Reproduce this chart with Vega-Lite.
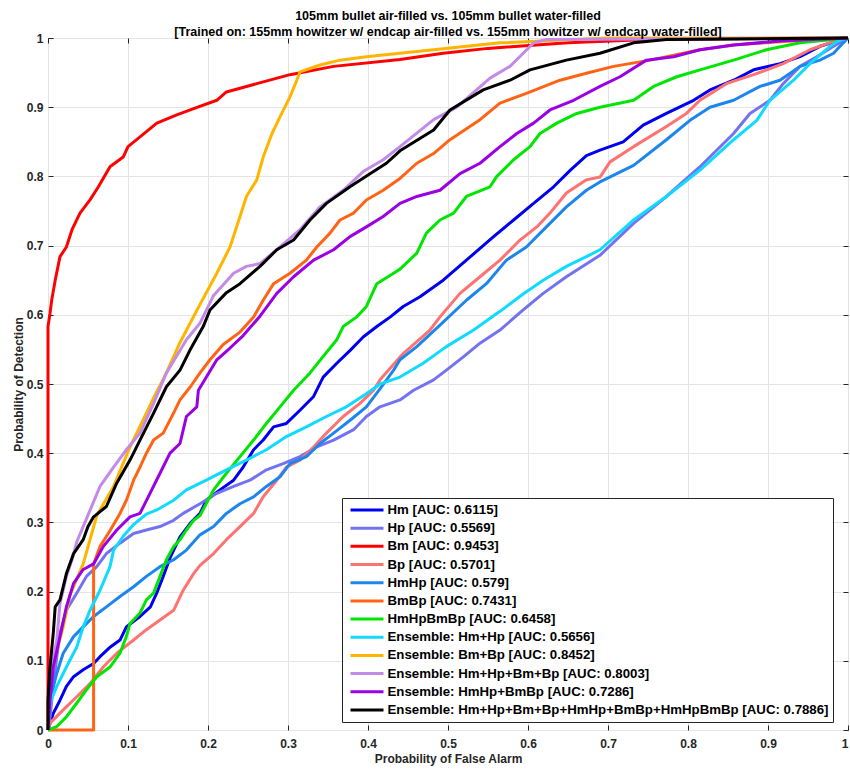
{
  "$schema": "https://vega.github.io/schema/vega-lite/v6.json",
  "width": 800,
  "height": 692,
  "autosize": {"type": "none"},
  "padding": {"left": 48, "top": 38, "right": 2, "bottom": 39},
  "background": "white",
  "config": {
    "font": "Liberation Sans",
    "view": {"stroke": "#262626", "strokeWidth": 1}
  },
  "title": {
    "text": [
      "105mm bullet air-filled vs. 105mm bullet water-filled",
      "[Trained on: 155mm howitzer w/ endcap air-filled vs. 155mm howitzer w/ endcap water-filled]"
    ],
    "fontSize": 12.5,
    "fontWeight": "bold",
    "color": "#000000",
    "anchor": "middle",
    "offset": -6,
    "lineHeight": 16
  },
  "datasets": {
    "auc": [
      {"s": "Hm", "name": "Hm [AUC: 0.6115]"},
      {"s": "Hp", "name": "Hp [AUC: 0.5569]"},
      {"s": "Bm", "name": "Bm [AUC: 0.9453]"},
      {"s": "Bp", "name": "Bp [AUC: 0.5701]"},
      {"s": "HmHp", "name": "HmHp [AUC: 0.579]"},
      {"s": "BmBp", "name": "BmBp [AUC: 0.7431]"},
      {"s": "HmHpBmBp", "name": "HmHpBmBp [AUC: 0.6458]"},
      {"s": "Hm+Hp", "name": "Ensemble: Hm+Hp [AUC: 0.5656]"},
      {"s": "Bm+Bp", "name": "Ensemble: Bm+Bp [AUC: 0.8452]"},
      {"s": "Hm+Hp+Bm+Bp", "name": "Ensemble: Hm+Hp+Bm+Bp [AUC: 0.8003]"},
      {"s": "HmHp+BmBp", "name": "Ensemble: HmHp+BmBp [AUC: 0.7286]"},
      {"s": "All", "name": "Ensemble: Hm+Hp+Bm+Bp+HmHp+BmBp+HmHpBmBp [AUC: 0.7886]"}
    ],
    "roc": [
      {"s":"Hm","x":0,"y":0},{"s":"Hm","x":0.0066,"y":0.024},{"s":"Hm","x":0.015,"y":0.043},{"s":"Hm","x":0.023,"y":0.063},{"s":"Hm","x":0.032,"y":0.077},{"s":"Hm","x":0.044,"y":0.087},{"s":"Hm","x":0.057,"y":0.096},{"s":"Hm","x":0.065,"y":0.106},{"s":"Hm","x":0.078,"y":0.12},{"s":"Hm","x":0.09,"y":0.13},{"s":"Hm","x":0.098,"y":0.149},{"s":"Hm","x":0.115,"y":0.164},{"s":"Hm","x":0.128,"y":0.178},{"s":"Hm","x":0.136,"y":0.198},{"s":"Hm","x":0.144,"y":0.222},{"s":"Hm","x":0.153,"y":0.25},{"s":"Hm","x":0.165,"y":0.279},{"s":"Hm","x":0.178,"y":0.299},{"s":"Hm","x":0.19,"y":0.313},{"s":"Hm","x":0.198,"y":0.332},{"s":"Hm","x":0.215,"y":0.347},{"s":"Hm","x":0.232,"y":0.361},{"s":"Hm","x":0.244,"y":0.38},{"s":"Hm","x":0.257,"y":0.405},{"s":"Hm","x":0.269,"y":0.419},{"s":"Hm","x":0.282,"y":0.438},{"s":"Hm","x":0.298,"y":0.443},{"s":"Hm","x":0.315,"y":0.462},{"s":"Hm","x":0.332,"y":0.482},{"s":"Hm","x":0.344,"y":0.51},{"s":"Hm","x":0.361,"y":0.53},{"s":"Hm","x":0.378,"y":0.549},{"s":"Hm","x":0.394,"y":0.568},{"s":"Hm","x":0.411,"y":0.583},{"s":"Hm","x":0.428,"y":0.597},{"s":"Hm","x":0.444,"y":0.612},{"s":"Hm","x":0.465,"y":0.626},{"s":"Hm","x":0.494,"y":0.65},{"s":"Hm","x":0.523,"y":0.679},{"s":"Hm","x":0.557,"y":0.713},{"s":"Hm","x":0.582,"y":0.737},{"s":"Hm","x":0.607,"y":0.761},{"s":"Hm","x":0.632,"y":0.785},{"s":"Hm","x":0.653,"y":0.809},{"s":"Hm","x":0.673,"y":0.83},{"s":"Hm","x":0.69,"y":0.838},{"s":"Hm","x":0.719,"y":0.85},{"s":"Hm","x":0.744,"y":0.874},{"s":"Hm","x":0.773,"y":0.891},{"s":"Hm","x":0.807,"y":0.91},{"s":"Hm","x":0.8275,"y":0.925},{"s":"Hm","x":0.857,"y":0.939},{"s":"Hm","x":0.882,"y":0.954},{"s":"Hm","x":0.915,"y":0.963},{"s":"Hm","x":0.94,"y":0.973},{"s":"Hm","x":0.965,"y":0.988},{"s":"Hm","x":0.99,"y":0.997},{"s":"Hm","x":1,"y":1},
      {"s":"Hp","x":0,"y":0},{"s":"Hp","x":0.0025,"y":0.019},{"s":"Hp","x":0.0066,"y":0.063},{"s":"Hp","x":0.011,"y":0.106},{"s":"Hp","x":0.015,"y":0.14},{"s":"Hp","x":0.023,"y":0.173},{"s":"Hp","x":0.036,"y":0.198},{"s":"Hp","x":0.048,"y":0.222},{"s":"Hp","x":0.061,"y":0.236},{"s":"Hp","x":0.073,"y":0.255},{"s":"Hp","x":0.09,"y":0.27},{"s":"Hp","x":0.107,"y":0.284},{"s":"Hp","x":0.123,"y":0.289},{"s":"Hp","x":0.14,"y":0.294},{"s":"Hp","x":0.157,"y":0.303},{"s":"Hp","x":0.169,"y":0.313},{"s":"Hp","x":0.19,"y":0.327},{"s":"Hp","x":0.211,"y":0.342},{"s":"Hp","x":0.232,"y":0.352},{"s":"Hp","x":0.2525,"y":0.361},{"s":"Hp","x":0.273,"y":0.376},{"s":"Hp","x":0.294,"y":0.385},{"s":"Hp","x":0.315,"y":0.395},{"s":"Hp","x":0.336,"y":0.409},{"s":"Hp","x":0.357,"y":0.419},{"s":"Hp","x":0.382,"y":0.434},{"s":"Hp","x":0.398,"y":0.453},{"s":"Hp","x":0.415,"y":0.467},{"s":"Hp","x":0.44,"y":0.477},{"s":"Hp","x":0.457,"y":0.491},{"s":"Hp","x":0.482,"y":0.506},{"s":"Hp","x":0.498,"y":0.52},{"s":"Hp","x":0.52,"y":0.54},{"s":"Hp","x":0.54,"y":0.559},{"s":"Hp","x":0.565,"y":0.578},{"s":"Hp","x":0.594,"y":0.607},{"s":"Hp","x":0.619,"y":0.631},{"s":"Hp","x":0.648,"y":0.655},{"s":"Hp","x":0.69,"y":0.686},{"s":"Hp","x":0.732,"y":0.732},{"s":"Hp","x":0.773,"y":0.771},{"s":"Hp","x":0.815,"y":0.814},{"s":"Hp","x":0.857,"y":0.862},{"s":"Hp","x":0.8775,"y":0.891},{"s":"Hp","x":0.9025,"y":0.91},{"s":"Hp","x":0.919,"y":0.934},{"s":"Hp","x":0.94,"y":0.959},{"s":"Hp","x":0.961,"y":0.973},{"s":"Hp","x":0.982,"y":0.988},{"s":"Hp","x":1,"y":1},
      {"s":"Bm","x":0,"y":0},{"s":"Bm","x":0,"y":0.583},{"s":"Bm","x":0.0025,"y":0.602},{"s":"Bm","x":0.0046,"y":0.621},{"s":"Bm","x":0.009,"y":0.65},{"s":"Bm","x":0.015,"y":0.684},{"s":"Bm","x":0.023,"y":0.698},{"s":"Bm","x":0.03,"y":0.723},{"s":"Bm","x":0.04,"y":0.747},{"s":"Bm","x":0.0525,"y":0.766},{"s":"Bm","x":0.063,"y":0.785},{"s":"Bm","x":0.0775,"y":0.814},{"s":"Bm","x":0.094,"y":0.828},{"s":"Bm","x":0.1,"y":0.843},{"s":"Bm","x":0.115,"y":0.857},{"s":"Bm","x":0.136,"y":0.877},{"s":"Bm","x":0.161,"y":0.889},{"s":"Bm","x":0.182,"y":0.898},{"s":"Bm","x":0.211,"y":0.91},{"s":"Bm","x":0.223,"y":0.922},{"s":"Bm","x":0.261,"y":0.934},{"s":"Bm","x":0.3025,"y":0.947},{"s":"Bm","x":0.357,"y":0.959},{"s":"Bm","x":0.44,"y":0.969},{"s":"Bm","x":0.494,"y":0.978},{"s":"Bm","x":0.55,"y":0.985},{"s":"Bm","x":0.65,"y":0.993},{"s":"Bm","x":0.75,"y":0.998},{"s":"Bm","x":1,"y":1},
      {"s":"Bp","x":0,"y":0},{"s":"Bp","x":0.0025,"y":0.01},{"s":"Bp","x":0.019,"y":0.029},{"s":"Bp","x":0.036,"y":0.048},{"s":"Bp","x":0.0525,"y":0.067},{"s":"Bp","x":0.069,"y":0.091},{"s":"Bp","x":0.086,"y":0.111},{"s":"Bp","x":0.107,"y":0.13},{"s":"Bp","x":0.123,"y":0.145},{"s":"Bp","x":0.14,"y":0.159},{"s":"Bp","x":0.157,"y":0.173},{"s":"Bp","x":0.169,"y":0.202},{"s":"Bp","x":0.182,"y":0.226},{"s":"Bp","x":0.19,"y":0.238},{"s":"Bp","x":0.207,"y":0.255},{"s":"Bp","x":0.223,"y":0.275},{"s":"Bp","x":0.24,"y":0.294},{"s":"Bp","x":0.257,"y":0.313},{"s":"Bp","x":0.269,"y":0.337},{"s":"Bp","x":0.286,"y":0.361},{"s":"Bp","x":0.298,"y":0.38},{"s":"Bp","x":0.315,"y":0.39},{"s":"Bp","x":0.332,"y":0.409},{"s":"Bp","x":0.348,"y":0.429},{"s":"Bp","x":0.369,"y":0.453},{"s":"Bp","x":0.39,"y":0.472},{"s":"Bp","x":0.407,"y":0.491},{"s":"Bp","x":0.415,"y":0.506},{"s":"Bp","x":0.444,"y":0.544},{"s":"Bp","x":0.4775,"y":0.578},{"s":"Bp","x":0.49,"y":0.597},{"s":"Bp","x":0.515,"y":0.631},{"s":"Bp","x":0.54,"y":0.655},{"s":"Bp","x":0.565,"y":0.679},{"s":"Bp","x":0.59,"y":0.708},{"s":"Bp","x":0.611,"y":0.727},{"s":"Bp","x":0.6275,"y":0.747},{"s":"Bp","x":0.648,"y":0.776},{"s":"Bp","x":0.673,"y":0.795},{"s":"Bp","x":0.69,"y":0.799},{"s":"Bp","x":0.7025,"y":0.821},{"s":"Bp","x":0.732,"y":0.843},{"s":"Bp","x":0.773,"y":0.872},{"s":"Bp","x":0.798,"y":0.891},{"s":"Bp","x":0.815,"y":0.91},{"s":"Bp","x":0.848,"y":0.934},{"s":"Bp","x":0.882,"y":0.947},{"s":"Bp","x":0.919,"y":0.963},{"s":"Bp","x":0.9525,"y":0.983},{"s":"Bp","x":0.982,"y":0.995},{"s":"Bp","x":1,"y":1},
      {"s":"HmHp","x":0,"y":0},{"s":"HmHp","x":0.0025,"y":0.043},{"s":"HmHp","x":0.011,"y":0.082},{"s":"HmHp","x":0.019,"y":0.111},{"s":"HmHp","x":0.032,"y":0.135},{"s":"HmHp","x":0.044,"y":0.149},{"s":"HmHp","x":0.057,"y":0.164},{"s":"HmHp","x":0.073,"y":0.178},{"s":"HmHp","x":0.09,"y":0.193},{"s":"HmHp","x":0.107,"y":0.207},{"s":"HmHp","x":0.123,"y":0.222},{"s":"HmHp","x":0.14,"y":0.236},{"s":"HmHp","x":0.157,"y":0.246},{"s":"HmHp","x":0.173,"y":0.26},{"s":"HmHp","x":0.19,"y":0.282},{"s":"HmHp","x":0.207,"y":0.294},{"s":"HmHp","x":0.223,"y":0.313},{"s":"HmHp","x":0.24,"y":0.327},{"s":"HmHp","x":0.257,"y":0.337},{"s":"HmHp","x":0.273,"y":0.352},{"s":"HmHp","x":0.29,"y":0.366},{"s":"HmHp","x":0.3025,"y":0.385},{"s":"HmHp","x":0.323,"y":0.395},{"s":"HmHp","x":0.34,"y":0.414},{"s":"HmHp","x":0.357,"y":0.429},{"s":"HmHp","x":0.378,"y":0.448},{"s":"HmHp","x":0.398,"y":0.467},{"s":"HmHp","x":0.415,"y":0.493},{"s":"HmHp","x":0.432,"y":0.52},{"s":"HmHp","x":0.44,"y":0.535},{"s":"HmHp","x":0.461,"y":0.554},{"s":"HmHp","x":0.49,"y":0.585},{"s":"HmHp","x":0.523,"y":0.621},{"s":"HmHp","x":0.548,"y":0.645},{"s":"HmHp","x":0.573,"y":0.679},{"s":"HmHp","x":0.598,"y":0.698},{"s":"HmHp","x":0.623,"y":0.727},{"s":"HmHp","x":0.648,"y":0.756},{"s":"HmHp","x":0.673,"y":0.78},{"s":"HmHp","x":0.69,"y":0.792},{"s":"HmHp","x":0.732,"y":0.816},{"s":"HmHp","x":0.773,"y":0.853},{"s":"HmHp","x":0.8025,"y":0.881},{"s":"HmHp","x":0.8275,"y":0.9},{"s":"HmHp","x":0.857,"y":0.91},{"s":"HmHp","x":0.89,"y":0.93},{"s":"HmHp","x":0.915,"y":0.939},{"s":"HmHp","x":0.94,"y":0.959},{"s":"HmHp","x":0.965,"y":0.968},{"s":"HmHp","x":0.982,"y":0.978},{"s":"HmHp","x":0.994,"y":0.993},{"s":"HmHp","x":1,"y":1},
      {"s":"BmBp","x":0,"y":0},{"s":"BmBp","x":0.057,"y":0},{"s":"BmBp","x":0.057,"y":0.24},{"s":"BmBp","x":0.065,"y":0.265},{"s":"BmBp","x":0.078,"y":0.289},{"s":"BmBp","x":0.09,"y":0.313},{"s":"BmBp","x":0.098,"y":0.332},{"s":"BmBp","x":0.107,"y":0.361},{"s":"BmBp","x":0.115,"y":0.38},{"s":"BmBp","x":0.123,"y":0.4},{"s":"BmBp","x":0.132,"y":0.419},{"s":"BmBp","x":0.144,"y":0.429},{"s":"BmBp","x":0.157,"y":0.458},{"s":"BmBp","x":0.165,"y":0.477},{"s":"BmBp","x":0.178,"y":0.496},{"s":"BmBp","x":0.19,"y":0.516},{"s":"BmBp","x":0.2025,"y":0.535},{"s":"BmBp","x":0.219,"y":0.557},{"s":"BmBp","x":0.24,"y":0.575},{"s":"BmBp","x":0.257,"y":0.597},{"s":"BmBp","x":0.269,"y":0.621},{"s":"BmBp","x":0.282,"y":0.645},{"s":"BmBp","x":0.3025,"y":0.66},{"s":"BmBp","x":0.323,"y":0.679},{"s":"BmBp","x":0.336,"y":0.698},{"s":"BmBp","x":0.3525,"y":0.718},{"s":"BmBp","x":0.365,"y":0.737},{"s":"BmBp","x":0.382,"y":0.747},{"s":"BmBp","x":0.398,"y":0.766},{"s":"BmBp","x":0.419,"y":0.78},{"s":"BmBp","x":0.44,"y":0.797},{"s":"BmBp","x":0.461,"y":0.819},{"s":"BmBp","x":0.482,"y":0.833},{"s":"BmBp","x":0.5025,"y":0.853},{"s":"BmBp","x":0.54,"y":0.882},{"s":"BmBp","x":0.565,"y":0.906},{"s":"BmBp","x":0.598,"y":0.92},{"s":"BmBp","x":0.64,"y":0.939},{"s":"BmBp","x":0.673,"y":0.949},{"s":"BmBp","x":0.707,"y":0.959},{"s":"BmBp","x":0.7525,"y":0.968},{"s":"BmBp","x":0.815,"y":0.983},{"s":"BmBp","x":0.857,"y":0.99},{"s":"BmBp","x":0.919,"y":0.995},{"s":"BmBp","x":1,"y":1},
      {"s":"HmHpBmBp","x":0,"y":0},{"s":"HmHpBmBp","x":0.011,"y":0.005},{"s":"HmHpBmBp","x":0.023,"y":0.019},{"s":"HmHpBmBp","x":0.036,"y":0.039},{"s":"HmHpBmBp","x":0.048,"y":0.058},{"s":"HmHpBmBp","x":0.061,"y":0.077},{"s":"HmHpBmBp","x":0.0775,"y":0.091},{"s":"HmHpBmBp","x":0.09,"y":0.111},{"s":"HmHpBmBp","x":0.098,"y":0.135},{"s":"HmHpBmBp","x":0.1025,"y":0.154},{"s":"HmHpBmBp","x":0.115,"y":0.169},{"s":"HmHpBmBp","x":0.123,"y":0.188},{"s":"HmHpBmBp","x":0.132,"y":0.198},{"s":"HmHpBmBp","x":0.14,"y":0.222},{"s":"HmHpBmBp","x":0.148,"y":0.246},{"s":"HmHpBmBp","x":0.157,"y":0.265},{"s":"HmHpBmBp","x":0.165,"y":0.275},{"s":"HmHpBmBp","x":0.173,"y":0.289},{"s":"HmHpBmBp","x":0.182,"y":0.303},{"s":"HmHpBmBp","x":0.19,"y":0.31},{"s":"HmHpBmBp","x":0.207,"y":0.347},{"s":"HmHpBmBp","x":0.223,"y":0.371},{"s":"HmHpBmBp","x":0.24,"y":0.395},{"s":"HmHpBmBp","x":0.257,"y":0.419},{"s":"HmHpBmBp","x":0.273,"y":0.443},{"s":"HmHpBmBp","x":0.29,"y":0.467},{"s":"HmHpBmBp","x":0.307,"y":0.491},{"s":"HmHpBmBp","x":0.3275,"y":0.516},{"s":"HmHpBmBp","x":0.344,"y":0.54},{"s":"HmHpBmBp","x":0.361,"y":0.564},{"s":"HmHpBmBp","x":0.369,"y":0.583},{"s":"HmHpBmBp","x":0.386,"y":0.597},{"s":"HmHpBmBp","x":0.398,"y":0.612},{"s":"HmHpBmBp","x":0.411,"y":0.645},{"s":"HmHpBmBp","x":0.432,"y":0.66},{"s":"HmHpBmBp","x":0.44,"y":0.666},{"s":"HmHpBmBp","x":0.461,"y":0.689},{"s":"HmHpBmBp","x":0.473,"y":0.718},{"s":"HmHpBmBp","x":0.49,"y":0.737},{"s":"HmHpBmBp","x":0.507,"y":0.747},{"s":"HmHpBmBp","x":0.523,"y":0.771},{"s":"HmHpBmBp","x":0.5525,"y":0.785},{"s":"HmHpBmBp","x":0.561,"y":0.8},{"s":"HmHpBmBp","x":0.582,"y":0.824},{"s":"HmHpBmBp","x":0.6025,"y":0.843},{"s":"HmHpBmBp","x":0.615,"y":0.862},{"s":"HmHpBmBp","x":0.636,"y":0.877},{"s":"HmHpBmBp","x":0.661,"y":0.891},{"s":"HmHpBmBp","x":0.69,"y":0.9},{"s":"HmHpBmBp","x":0.732,"y":0.91},{"s":"HmHpBmBp","x":0.757,"y":0.93},{"s":"HmHpBmBp","x":0.786,"y":0.944},{"s":"HmHpBmBp","x":0.815,"y":0.954},{"s":"HmHpBmBp","x":0.857,"y":0.968},{"s":"HmHpBmBp","x":0.898,"y":0.983},{"s":"HmHpBmBp","x":0.94,"y":0.993},{"s":"HmHpBmBp","x":1,"y":1},
      {"s":"Hm+Hp","x":0,"y":0},{"s":"Hm+Hp","x":0.0025,"y":0.039},{"s":"Hm+Hp","x":0.011,"y":0.063},{"s":"Hm+Hp","x":0.023,"y":0.091},{"s":"Hm+Hp","x":0.036,"y":0.12},{"s":"Hm+Hp","x":0.044,"y":0.149},{"s":"Hm+Hp","x":0.0525,"y":0.173},{"s":"Hm+Hp","x":0.065,"y":0.202},{"s":"Hm+Hp","x":0.0775,"y":0.236},{"s":"Hm+Hp","x":0.082,"y":0.26},{"s":"Hm+Hp","x":0.094,"y":0.28},{"s":"Hm+Hp","x":0.107,"y":0.297},{"s":"Hm+Hp","x":0.123,"y":0.312},{"s":"Hm+Hp","x":0.136,"y":0.318},{"s":"Hm+Hp","x":0.157,"y":0.332},{"s":"Hm+Hp","x":0.173,"y":0.347},{"s":"Hm+Hp","x":0.198,"y":0.361},{"s":"Hm+Hp","x":0.223,"y":0.376},{"s":"Hm+Hp","x":0.248,"y":0.39},{"s":"Hm+Hp","x":0.273,"y":0.405},{"s":"Hm+Hp","x":0.298,"y":0.424},{"s":"Hm+Hp","x":0.323,"y":0.438},{"s":"Hm+Hp","x":0.348,"y":0.453},{"s":"Hm+Hp","x":0.373,"y":0.467},{"s":"Hm+Hp","x":0.398,"y":0.486},{"s":"Hm+Hp","x":0.415,"y":0.5},{"s":"Hm+Hp","x":0.44,"y":0.51},{"s":"Hm+Hp","x":0.469,"y":0.53},{"s":"Hm+Hp","x":0.498,"y":0.554},{"s":"Hm+Hp","x":0.532,"y":0.578},{"s":"Hm+Hp","x":0.565,"y":0.605},{"s":"Hm+Hp","x":0.594,"y":0.63},{"s":"Hm+Hp","x":0.619,"y":0.65},{"s":"Hm+Hp","x":0.648,"y":0.67},{"s":"Hm+Hp","x":0.673,"y":0.684},{"s":"Hm+Hp","x":0.69,"y":0.694},{"s":"Hm+Hp","x":0.732,"y":0.737},{"s":"Hm+Hp","x":0.773,"y":0.771},{"s":"Hm+Hp","x":0.815,"y":0.809},{"s":"Hm+Hp","x":0.857,"y":0.853},{"s":"Hm+Hp","x":0.886,"y":0.881},{"s":"Hm+Hp","x":0.9025,"y":0.91},{"s":"Hm+Hp","x":0.932,"y":0.939},{"s":"Hm+Hp","x":0.9525,"y":0.963},{"s":"Hm+Hp","x":0.9775,"y":0.988},{"s":"Hm+Hp","x":0.99,"y":0.997},{"s":"Hm+Hp","x":1,"y":1},
      {"s":"Bm+Bp","x":0,"y":0},{"s":"Bm+Bp","x":0.0025,"y":0.063},{"s":"Bm+Bp","x":0.009,"y":0.106},{"s":"Bm+Bp","x":0.019,"y":0.149},{"s":"Bm+Bp","x":0.0275,"y":0.195},{"s":"Bm+Bp","x":0.044,"y":0.24},{"s":"Bm+Bp","x":0.061,"y":0.31},{"s":"Bm+Bp","x":0.082,"y":0.352},{"s":"Bm+Bp","x":0.1025,"y":0.409},{"s":"Bm+Bp","x":0.123,"y":0.458},{"s":"Bm+Bp","x":0.132,"y":0.48},{"s":"Bm+Bp","x":0.148,"y":0.516},{"s":"Bm+Bp","x":0.165,"y":0.56},{"s":"Bm+Bp","x":0.19,"y":0.615},{"s":"Bm+Bp","x":0.211,"y":0.66},{"s":"Bm+Bp","x":0.2275,"y":0.698},{"s":"Bm+Bp","x":0.24,"y":0.742},{"s":"Bm+Bp","x":0.248,"y":0.771},{"s":"Bm+Bp","x":0.261,"y":0.795},{"s":"Bm+Bp","x":0.269,"y":0.828},{"s":"Bm+Bp","x":0.28,"y":0.862},{"s":"Bm+Bp","x":0.29,"y":0.886},{"s":"Bm+Bp","x":0.3025,"y":0.915},{"s":"Bm+Bp","x":0.311,"y":0.939},{"s":"Bm+Bp","x":0.315,"y":0.951},{"s":"Bm+Bp","x":0.34,"y":0.961},{"s":"Bm+Bp","x":0.365,"y":0.968},{"s":"Bm+Bp","x":0.398,"y":0.973},{"s":"Bm+Bp","x":0.44,"y":0.978},{"s":"Bm+Bp","x":0.482,"y":0.983},{"s":"Bm+Bp","x":0.565,"y":0.993},{"s":"Bm+Bp","x":0.7,"y":1},{"s":"Bm+Bp","x":1,"y":1},
      {"s":"Hm+Hp+Bm+Bp","x":0,"y":0},{"s":"Hm+Hp+Bm+Bp","x":0.0025,"y":0.077},{"s":"Hm+Hp+Bm+Bp","x":0.011,"y":0.13},{"s":"Hm+Hp+Bm+Bp","x":0.015,"y":0.183},{"s":"Hm+Hp+Bm+Bp","x":0.023,"y":0.222},{"s":"Hm+Hp+Bm+Bp","x":0.03,"y":0.246},{"s":"Hm+Hp+Bm+Bp","x":0.036,"y":0.272},{"s":"Hm+Hp+Bm+Bp","x":0.048,"y":0.305},{"s":"Hm+Hp+Bm+Bp","x":0.065,"y":0.352},{"s":"Hm+Hp+Bm+Bp","x":0.082,"y":0.38},{"s":"Hm+Hp+Bm+Bp","x":0.098,"y":0.405},{"s":"Hm+Hp+Bm+Bp","x":0.115,"y":0.429},{"s":"Hm+Hp+Bm+Bp","x":0.132,"y":0.472},{"s":"Hm+Hp+Bm+Bp","x":0.148,"y":0.516},{"s":"Hm+Hp+Bm+Bp","x":0.173,"y":0.564},{"s":"Hm+Hp+Bm+Bp","x":0.19,"y":0.588},{"s":"Hm+Hp+Bm+Bp","x":0.207,"y":0.628},{"s":"Hm+Hp+Bm+Bp","x":0.232,"y":0.66},{"s":"Hm+Hp+Bm+Bp","x":0.248,"y":0.67},{"s":"Hm+Hp+Bm+Bp","x":0.265,"y":0.674},{"s":"Hm+Hp+Bm+Bp","x":0.29,"y":0.698},{"s":"Hm+Hp+Bm+Bp","x":0.315,"y":0.723},{"s":"Hm+Hp+Bm+Bp","x":0.34,"y":0.756},{"s":"Hm+Hp+Bm+Bp","x":0.369,"y":0.78},{"s":"Hm+Hp+Bm+Bp","x":0.394,"y":0.807},{"s":"Hm+Hp+Bm+Bp","x":0.419,"y":0.824},{"s":"Hm+Hp+Bm+Bp","x":0.44,"y":0.843},{"s":"Hm+Hp+Bm+Bp","x":0.482,"y":0.882},{"s":"Hm+Hp+Bm+Bp","x":0.511,"y":0.9},{"s":"Hm+Hp+Bm+Bp","x":0.5525,"y":0.942},{"s":"Hm+Hp+Bm+Bp","x":0.5775,"y":0.959},{"s":"Hm+Hp+Bm+Bp","x":0.594,"y":0.978},{"s":"Hm+Hp+Bm+Bp","x":0.607,"y":0.993},{"s":"Hm+Hp+Bm+Bp","x":0.623,"y":0.998},{"s":"Hm+Hp+Bm+Bp","x":1,"y":1},
      {"s":"HmHp+BmBp","x":0,"y":0},{"s":"HmHp+BmBp","x":0.0025,"y":0.043},{"s":"HmHp+BmBp","x":0.0066,"y":0.091},{"s":"HmHp+BmBp","x":0.015,"y":0.135},{"s":"HmHp+BmBp","x":0.023,"y":0.178},{"s":"HmHp+BmBp","x":0.032,"y":0.212},{"s":"HmHp+BmBp","x":0.044,"y":0.232},{"s":"HmHp+BmBp","x":0.057,"y":0.24},{"s":"HmHp+BmBp","x":0.069,"y":0.265},{"s":"HmHp+BmBp","x":0.086,"y":0.289},{"s":"HmHp+BmBp","x":0.1025,"y":0.308},{"s":"HmHp+BmBp","x":0.115,"y":0.313},{"s":"HmHp+BmBp","x":0.1275,"y":0.342},{"s":"HmHp+BmBp","x":0.14,"y":0.371},{"s":"HmHp+BmBp","x":0.1525,"y":0.4},{"s":"HmHp+BmBp","x":0.165,"y":0.414},{"s":"HmHp+BmBp","x":0.173,"y":0.453},{"s":"HmHp+BmBp","x":0.186,"y":0.467},{"s":"HmHp+BmBp","x":0.188,"y":0.491},{"s":"HmHp+BmBp","x":0.198,"y":0.51},{"s":"HmHp+BmBp","x":0.211,"y":0.535},{"s":"HmHp+BmBp","x":0.2275,"y":0.552},{"s":"HmHp+BmBp","x":0.244,"y":0.57},{"s":"HmHp+BmBp","x":0.265,"y":0.598},{"s":"HmHp+BmBp","x":0.286,"y":0.631},{"s":"HmHp+BmBp","x":0.307,"y":0.655},{"s":"HmHp+BmBp","x":0.332,"y":0.679},{"s":"HmHp+BmBp","x":0.357,"y":0.694},{"s":"HmHp+BmBp","x":0.3775,"y":0.713},{"s":"HmHp+BmBp","x":0.398,"y":0.727},{"s":"HmHp+BmBp","x":0.419,"y":0.742},{"s":"HmHp+BmBp","x":0.44,"y":0.761},{"s":"HmHp+BmBp","x":0.461,"y":0.771},{"s":"HmHp+BmBp","x":0.49,"y":0.78},{"s":"HmHp+BmBp","x":0.515,"y":0.804},{"s":"HmHp+BmBp","x":0.54,"y":0.819},{"s":"HmHp+BmBp","x":0.565,"y":0.843},{"s":"HmHp+BmBp","x":0.586,"y":0.862},{"s":"HmHp+BmBp","x":0.607,"y":0.877},{"s":"HmHp+BmBp","x":0.6275,"y":0.896},{"s":"HmHp+BmBp","x":0.657,"y":0.91},{"s":"HmHp+BmBp","x":0.69,"y":0.93},{"s":"HmHp+BmBp","x":0.715,"y":0.944},{"s":"HmHp+BmBp","x":0.748,"y":0.968},{"s":"HmHp+BmBp","x":0.782,"y":0.973},{"s":"HmHp+BmBp","x":0.815,"y":0.983},{"s":"HmHp+BmBp","x":0.857,"y":0.99},{"s":"HmHp+BmBp","x":0.919,"y":0.996},{"s":"HmHp+BmBp","x":1,"y":1},
      {"s":"All","x":0,"y":0},{"s":"All","x":0,"y":0.043},{"s":"All","x":0.0025,"y":0.091},{"s":"All","x":0.0066,"y":0.14},{"s":"All","x":0.009,"y":0.178},{"s":"All","x":0.015,"y":0.188},{"s":"All","x":0.023,"y":0.226},{"s":"All","x":0.032,"y":0.255},{"s":"All","x":0.044,"y":0.275},{"s":"All","x":0.05,"y":0.294},{"s":"All","x":0.057,"y":0.308},{"s":"All","x":0.073,"y":0.323},{"s":"All","x":0.086,"y":0.357},{"s":"All","x":0.1025,"y":0.39},{"s":"All","x":0.115,"y":0.419},{"s":"All","x":0.132,"y":0.458},{"s":"All","x":0.148,"y":0.496},{"s":"All","x":0.165,"y":0.52},{"s":"All","x":0.1775,"y":0.549},{"s":"All","x":0.194,"y":0.583},{"s":"All","x":0.2025,"y":0.607},{"s":"All","x":0.223,"y":0.632},{"s":"All","x":0.24,"y":0.645},{"s":"All","x":0.265,"y":0.67},{"s":"All","x":0.286,"y":0.694},{"s":"All","x":0.307,"y":0.708},{"s":"All","x":0.3275,"y":0.737},{"s":"All","x":0.348,"y":0.761},{"s":"All","x":0.3775,"y":0.785},{"s":"All","x":0.4025,"y":0.804},{"s":"All","x":0.423,"y":0.819},{"s":"All","x":0.44,"y":0.837},{"s":"All","x":0.482,"y":0.867},{"s":"All","x":0.5025,"y":0.896},{"s":"All","x":0.544,"y":0.925},{"s":"All","x":0.5775,"y":0.939},{"s":"All","x":0.6025,"y":0.954},{"s":"All","x":0.648,"y":0.968},{"s":"All","x":0.69,"y":0.978},{"s":"All","x":0.732,"y":0.993},{"s":"All","x":0.773,"y":0.998},{"s":"All","x":1,"y":1}
    ]
  },
  "data": {"name": "roc"},
  "transform": [
    {"lookup": "s", "from": {"data": {"name": "auc"}, "key": "s", "fields": ["name"]}}
  ],
  "layer": [
    {
      "mark": {"type": "line", "strokeWidth": 3, "strokeJoin": "round"},
      "encoding": {
        "x": {
          "field": "x",
          "type": "quantitative",
          "scale": {"domain": [0, 1], "nice": false},
          "axis": {
            "orient": "bottom",
            "values": [0, 0.1, 0.2, 0.3, 0.4, 0.5, 0.6, 0.7, 0.8, 0.9, 1],
            "format": "~g",
            "domain": false,
            "grid": true,
            "gridColor": "#E4E4E4",
            "tickSize": -5,
            "tickColor": "#262626",
            "labelPadding": 13,
            "labelFontSize": 12,
            "labelFontWeight": "bold",
            "labelColor": "#262626",
            "labelFlush": false,
            "labelAlign": {"condition": {"test": "datum.value === 1", "value": "right"}, "value": "center"},
            "title": "Probability of False Alarm",
            "titleFontSize": 12,
            "titleFontWeight": "bold",
            "titleColor": "#262626",
            "titlePadding": 4
          }
        },
        "y": {
          "field": "y",
          "type": "quantitative",
          "scale": {"domain": [0, 1], "nice": false},
          "axis": {
            "orient": "left",
            "values": [0, 0.1, 0.2, 0.3, 0.4, 0.5, 0.6, 0.7, 0.8, 0.9, 1],
            "format": "~g",
            "domain": false,
            "grid": true,
            "gridColor": "#E4E4E4",
            "tickSize": -5,
            "tickColor": "#262626",
            "labelPadding": 10,
            "labelFontSize": 12,
            "labelFontWeight": "bold",
            "labelColor": "#262626",
            "labelFlush": false,
            "title": "Probability of Detection",
            "titleFontSize": 12,
            "titleFontWeight": "bold",
            "titleColor": "#262626",
            "titlePadding": 1
          }
        },
        "color": {
          "field": "name",
          "type": "nominal",
          "scale": {
            "domain": [
              "Hm [AUC: 0.6115]",
              "Hp [AUC: 0.5569]",
              "Bm [AUC: 0.9453]",
              "Bp [AUC: 0.5701]",
              "HmHp [AUC: 0.579]",
              "BmBp [AUC: 0.7431]",
              "HmHpBmBp [AUC: 0.6458]",
              "Ensemble: Hm+Hp [AUC: 0.5656]",
              "Ensemble: Bm+Bp [AUC: 0.8452]",
              "Ensemble: Hm+Hp+Bm+Bp [AUC: 0.8003]",
              "Ensemble: HmHp+BmBp [AUC: 0.7286]",
              "Ensemble: Hm+Hp+Bm+Bp+HmHp+BmBp+HmHpBmBp [AUC: 0.7886]"
            ],
            "range": ["#0000F0", "#7373F2", "#FF0000", "#FF7272", "#1C86EE", "#FF6414", "#00E600", "#10DAFF", "#FFB400", "#C38AE8", "#9A00E3", "#000000"]
          },
          "legend": {
            "orient": "none",
            "legendX": 294,
            "legendY": 460,
            "title": null,
            "symbolType": "stroke",
            "symbolSize": 1089,
            "symbolStrokeWidth": 3,
            "symbolOffset": 3,
            "labelOffset": 2.5,
            "labelFontSize": 13.25,
            "labelFontWeight": "bold",
            "labelColor": "#000000",
            "labelLimit": 0,
            "clipHeight": 16,
            "rowPadding": 2.18,
            "padding": 4,
            "strokeColor": "#262626",
            "fillColor": "white"
          }
        },
        "order": [{"field": "x", "type": "quantitative"}, {"field": "y", "type": "quantitative"}]
      }
    },
    {
      "mark": {"type": "point", "opacity": 0},
      "encoding": {
        "x": {
          "field": "x",
          "type": "quantitative",
          "axis": {"orient": "top", "values": [0, 0.1, 0.2, 0.3, 0.4, 0.5, 0.6, 0.7, 0.8, 0.9, 1], "labels": false, "grid": false, "domain": false, "tickSize": -5, "tickColor": "#262626", "title": null}
        },
        "y": {
          "field": "y",
          "type": "quantitative",
          "axis": {"orient": "right", "values": [0, 0.1, 0.2, 0.3, 0.4, 0.5, 0.6, 0.7, 0.8, 0.9, 1], "labels": false, "grid": false, "domain": false, "tickSize": -5, "tickColor": "#262626", "title": null}
        }
      }
    }
  ],
  "resolve": {"axis": {"x": "independent", "y": "independent"}}
}
